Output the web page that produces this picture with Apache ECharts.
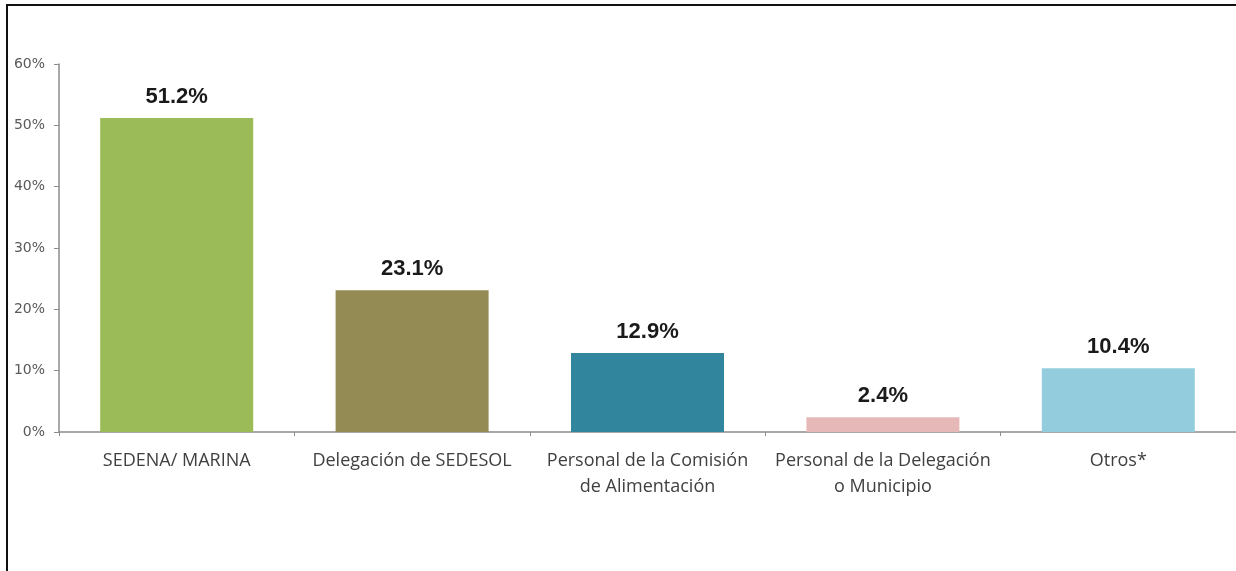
<!DOCTYPE html>
<html>
<head>
<meta charset="utf-8">
<script src="https://cdn.jsdelivr.net/npm/echarts@6/dist/echarts.min.js"></script>
<style>
  html, body { margin: 0; padding: 0; background: #fff; }
  #main { position: absolute; left: 0; top: 0; width: 1236px; height: 571px; }
  /* marco negro arriba e izquierda */
  #frame { position: absolute; left: 6px; top: 4px; width: 1240px; height: 580px;
           border-left: 2px solid #111; border-top: 2px solid #111; pointer-events: none; }
</style>
</head>
<body>
<div id="main"></div>
<div id="frame"></div>
<script>
// categorias
var categories = [
  "SEDENA/ MARINA",
  "Delegación de SEDESOL",
  "Personal de la Comisión\nde Alimentación",
  "Personal de la Delegación\no Municipio",
  "Otros*"
];
// porcentajes
var values = [51.2, 23.1, 12.9, 2.4, 10.4];
var barColors = ["#9bbb59", "#948a54", "#31859c", "#e6b9b8", "#93cddd"];
var yTicks = [0, 10, 20, 30, 40, 50, 60];

var myChart = echarts.init(document.getElementById("main"));
myChart.setOption({
  animation: false,
  grid: { left: 59, right: 0, top: 64, bottom: 139 },
  xAxis: {
    type: "category",
    data: categories,
    axisLine: { lineStyle: { color: "#8c8c8c", width: 1.5 } },
    axisTick: { show: true, length: 4, lineStyle: { color: "#8c8c8c" } },
    axisLabel: {
      interval: 0,
      margin: 16,
      color: "#404040",
      fontSize: 18,
      lineHeight: 26,
      fontFamily: "Open Sans"
    }
  },
  yAxis: {
    type: "value",
    min: yTicks[0],
    max: yTicks[yTicks.length - 1],
    interval: 10,
    splitLine: { show: false },
    axisLine: { show: true, lineStyle: { color: "#8c8c8c", width: 1.5 } },
    axisTick: { show: true, length: 5, lineStyle: { color: "#8c8c8c" } },
    axisLabel: {
      formatter: "{value}%",
      color: "#595959",
      fontSize: 14,
      margin: 14,
      fontFamily: "DejaVu Sans"
    }
  },
  series: [
    {
      type: "bar",
      barWidth: "65%",
      data: values.map(function (v, i) {
        return { value: v, itemStyle: { color: barColors[i] } };
      }),
      label: {
        show: true,
        position: "top",
        distance: 10,
        formatter: function (p) { return p.value.toFixed(1) + "%"; },
        color: "#1a1a1a",
        fontSize: 22,
        fontWeight: "bold",
        fontFamily: "Liberation Sans"
      }
    }
  ]
});
</script>
</body>
</html>
